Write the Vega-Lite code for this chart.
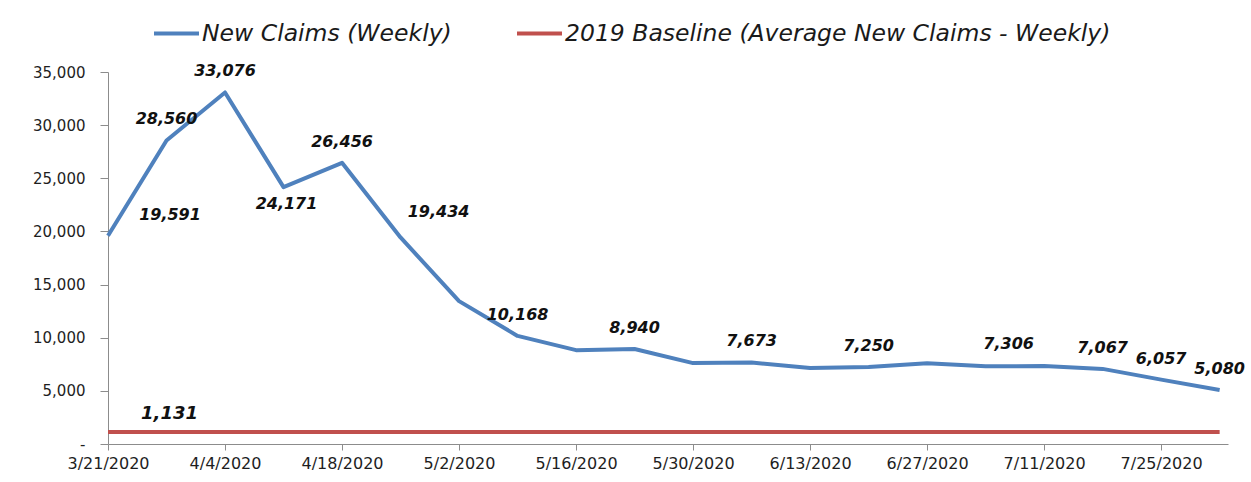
{
  "$schema": "https://vega.github.io/schema/vega-lite/v6.json",
  "width": 1120,
  "height": 372,
  "autosize": {"type": "none"},
  "padding": {"left": 108, "top": 72, "right": 23, "bottom": 38},
  "background": "white",
  "config": {
    "view": {"stroke": null},
    "font": "DejaVu Sans"
  },
  "datasets": {
    "claims": [
      {"date": "2020-03-21", "series": "New Claims (Weekly)", "value": 19591},
      {"date": "2020-03-28", "series": "New Claims (Weekly)", "value": 28560},
      {"date": "2020-04-04", "series": "New Claims (Weekly)", "value": 33076},
      {"date": "2020-04-11", "series": "New Claims (Weekly)", "value": 24171},
      {"date": "2020-04-18", "series": "New Claims (Weekly)", "value": 26456},
      {"date": "2020-04-25", "series": "New Claims (Weekly)", "value": 19434},
      {"date": "2020-05-02", "series": "New Claims (Weekly)", "value": 13440},
      {"date": "2020-05-09", "series": "New Claims (Weekly)", "value": 10168},
      {"date": "2020-05-16", "series": "New Claims (Weekly)", "value": 8830},
      {"date": "2020-05-23", "series": "New Claims (Weekly)", "value": 8940},
      {"date": "2020-05-30", "series": "New Claims (Weekly)", "value": 7610},
      {"date": "2020-06-06", "series": "New Claims (Weekly)", "value": 7673},
      {"date": "2020-06-13", "series": "New Claims (Weekly)", "value": 7140},
      {"date": "2020-06-20", "series": "New Claims (Weekly)", "value": 7250},
      {"date": "2020-06-27", "series": "New Claims (Weekly)", "value": 7600},
      {"date": "2020-07-04", "series": "New Claims (Weekly)", "value": 7306},
      {"date": "2020-07-11", "series": "New Claims (Weekly)", "value": 7330},
      {"date": "2020-07-18", "series": "New Claims (Weekly)", "value": 7067},
      {"date": "2020-07-25", "series": "New Claims (Weekly)", "value": 6057},
      {"date": "2020-08-01", "series": "New Claims (Weekly)", "value": 5080}
    ],
    "baseline": [
      {"date": "2020-03-21", "series": "2019 Baseline (Average New Claims - Weekly)", "value": 1131},
      {"date": "2020-03-28", "series": "2019 Baseline (Average New Claims - Weekly)", "value": 1131},
      {"date": "2020-04-04", "series": "2019 Baseline (Average New Claims - Weekly)", "value": 1131},
      {"date": "2020-04-11", "series": "2019 Baseline (Average New Claims - Weekly)", "value": 1131},
      {"date": "2020-04-18", "series": "2019 Baseline (Average New Claims - Weekly)", "value": 1131},
      {"date": "2020-04-25", "series": "2019 Baseline (Average New Claims - Weekly)", "value": 1131},
      {"date": "2020-05-02", "series": "2019 Baseline (Average New Claims - Weekly)", "value": 1131},
      {"date": "2020-05-09", "series": "2019 Baseline (Average New Claims - Weekly)", "value": 1131},
      {"date": "2020-05-16", "series": "2019 Baseline (Average New Claims - Weekly)", "value": 1131},
      {"date": "2020-05-23", "series": "2019 Baseline (Average New Claims - Weekly)", "value": 1131},
      {"date": "2020-05-30", "series": "2019 Baseline (Average New Claims - Weekly)", "value": 1131},
      {"date": "2020-06-06", "series": "2019 Baseline (Average New Claims - Weekly)", "value": 1131},
      {"date": "2020-06-13", "series": "2019 Baseline (Average New Claims - Weekly)", "value": 1131},
      {"date": "2020-06-20", "series": "2019 Baseline (Average New Claims - Weekly)", "value": 1131},
      {"date": "2020-06-27", "series": "2019 Baseline (Average New Claims - Weekly)", "value": 1131},
      {"date": "2020-07-04", "series": "2019 Baseline (Average New Claims - Weekly)", "value": 1131},
      {"date": "2020-07-11", "series": "2019 Baseline (Average New Claims - Weekly)", "value": 1131},
      {"date": "2020-07-18", "series": "2019 Baseline (Average New Claims - Weekly)", "value": 1131},
      {"date": "2020-07-25", "series": "2019 Baseline (Average New Claims - Weekly)", "value": 1131},
      {"date": "2020-08-01", "series": "2019 Baseline (Average New Claims - Weekly)", "value": 1131}
    ]
  },
  "encoding": {
    "x": {
      "field": "date",
      "type": "temporal",
      "scale": {
        "type": "utc",
        "domain": [
          {"year": 2020, "month": 3, "date": 21, "utc": true},
          {"year": 2020, "month": 8, "date": 2, "utc": true}
        ]
      },
      "axis": {
        "title": null,
        "grid": false,
        "values": [
          {"year": 2020, "month": 3, "date": 21, "utc": true},
          {"year": 2020, "month": 4, "date": 4, "utc": true},
          {"year": 2020, "month": 4, "date": 18, "utc": true},
          {"year": 2020, "month": 5, "date": 2, "utc": true},
          {"year": 2020, "month": 5, "date": 16, "utc": true},
          {"year": 2020, "month": 5, "date": 30, "utc": true},
          {"year": 2020, "month": 6, "date": 13, "utc": true},
          {"year": 2020, "month": 6, "date": 27, "utc": true},
          {"year": 2020, "month": 7, "date": 11, "utc": true},
          {"year": 2020, "month": 7, "date": 25, "utc": true}
        ],
        "labelExpr": "utcFormat(datum.value, '%-m/%-d/%Y')",
        "labelFont": "DejaVu Sans",
        "labelFontSize": 16,
        "labelColor": "#1e1e1e",
        "labelPadding": 5,
        "labelOverlap": false,
        "labelFlush": false,
        "tickSize": 6,
        "tickColor": "#8c8c8c",
        "domainColor": "#8c8c8c",
        "domainWidth": 1
      }
    },
    "y": {
      "field": "value",
      "type": "quantitative",
      "scale": {"domain": [0, 35000], "nice": false},
      "axis": {
        "title": null,
        "grid": false,
        "values": [0, 5000, 10000, 15000, 20000, 25000, 30000, 35000],
        "labelExpr": "datum.value === 0 ? '-\u00a0\u00a0' : format(datum.value, ',')",
        "labelFont": "DejaVu Sans",
        "labelFontSize": 15,
        "labelColor": "#1e1e1e",
        "labelPadding": 15,
        "tickSize": 8,
        "tickColor": "#8c8c8c",
        "domainColor": "#8c8c8c",
        "domainWidth": 1
      }
    }
  },
  "layer": [
    {
      "data": {"name": "baseline"},
      "mark": {"type": "line", "strokeWidth": 4, "strokeJoin": "round"},
      "encoding": {
        "color": {
          "field": "series",
          "type": "nominal",
          "scale": {
            "domain": ["New Claims (Weekly)", "2019 Baseline (Average New Claims - Weekly)"],
            "range": ["#4F81BD", "#C0504D"]
          },
          "legend": {
            "title": null,
            "orient": "none",
            "direction": "horizontal",
            "columns": 2,
            "legendX": 44,
            "legendY": -63,
            "symbolType": "stroke",
            "symbolSize": 2025,
            "symbolStrokeWidth": 4,
            "labelFont": "DejaVu Sans",
            "labelFontStyle": "italic",
            "labelFontSize": 23.5,
            "labelColor": "#1a1a1a",
            "labelOffset": 1,
            "columnPadding": 57,
            "labelLimit": 0
          }
        }
      }
    },
    {
      "data": {"name": "claims"},
      "mark": {"type": "line", "strokeWidth": 4, "strokeJoin": "round"},
      "encoding": {
        "color": {"field": "series", "type": "nominal"}
      }
    },
    {
      "data": {"name": "claims"},
      "transform": [
        {"filter": "indexof(['2020-03-28', '2020-04-04', '2020-04-18', '2020-05-09', '2020-05-23', '2020-06-06', '2020-06-20', '2020-07-18', '2020-07-25', '2020-08-01'], utcFormat(datum.date, '%Y-%m-%d')) >= 0"}
      ],
      "mark": {"type": "text", "dy": -21, "font": "DejaVu Sans", "fontSize": 16, "fontWeight": "bold", "fontStyle": "italic", "color": "#111111", "baseline": "middle", "align": "center"},
      "encoding": {"text": {"field": "value", "type": "quantitative", "format": ","}}
    },
    {
      "data": {"name": "claims"},
      "transform": [{"filter": "utcFormat(datum.date, '%Y-%m-%d') === '2020-04-11'"}],
      "mark": {"type": "text", "dy": 17, "dx": 3, "font": "DejaVu Sans", "fontSize": 16, "fontWeight": "bold", "fontStyle": "italic", "color": "#111111", "baseline": "middle", "align": "center"},
      "encoding": {"text": {"field": "value", "type": "quantitative", "format": ","}}
    },
    {
      "data": {"name": "claims"},
      "transform": [{"filter": "utcFormat(datum.date, '%Y-%m-%d') === '2020-03-21'"}],
      "mark": {"type": "text", "dy": -21, "dx": 62, "font": "DejaVu Sans", "fontSize": 16, "fontWeight": "bold", "fontStyle": "italic", "color": "#111111", "baseline": "middle", "align": "center"},
      "encoding": {"text": {"field": "value", "type": "quantitative", "format": ","}}
    },
    {
      "data": {"name": "claims"},
      "transform": [{"filter": "utcFormat(datum.date, '%Y-%m-%d') === '2020-04-25'"}],
      "mark": {"type": "text", "dy": -25, "dx": 38, "font": "DejaVu Sans", "fontSize": 16, "fontWeight": "bold", "fontStyle": "italic", "color": "#111111", "baseline": "middle", "align": "center"},
      "encoding": {"text": {"field": "value", "type": "quantitative", "format": ","}}
    },
    {
      "data": {"name": "claims"},
      "transform": [{"filter": "utcFormat(datum.date, '%Y-%m-%d') === '2020-07-04'"}],
      "mark": {"type": "text", "dy": -22, "dx": 23, "font": "DejaVu Sans", "fontSize": 16, "fontWeight": "bold", "fontStyle": "italic", "color": "#111111", "baseline": "middle", "align": "center"},
      "encoding": {"text": {"field": "value", "type": "quantitative", "format": ","}}
    },
    {
      "data": {"name": "baseline"},
      "transform": [{"filter": "utcFormat(datum.date, '%Y-%m-%d') === '2020-03-28'"}],
      "mark": {"type": "text", "dy": -18, "dx": 3, "font": "DejaVu Sans", "fontSize": 18, "fontWeight": "bold", "fontStyle": "italic", "color": "#111111", "baseline": "middle", "align": "center"},
      "encoding": {"text": {"field": "value", "type": "quantitative", "format": ","}}
    }
  ]
}
